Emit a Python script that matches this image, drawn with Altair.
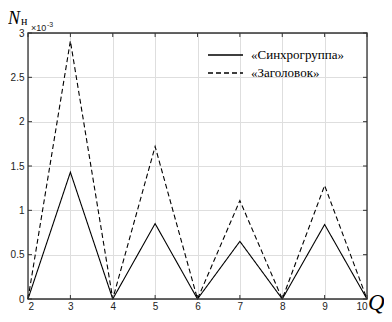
import altair as alt
import pandas as pd

q = [2, 3, 4, 5, 6, 7, 8, 9, 10]
sync = [0, 1.43, 0, 0.85, 0, 0.65, 0, 0.84, 0]
head = [0, 2.91, 0, 1.72, 0, 1.11, 0, 1.28, 0]
series_names = ["«Синхрогруппа»", "«Заголовок»"]
x_ticks = [2, 3, 4, 5, 6, 7, 8, 9, 10]
y_ticks = [0, 0.5, 1, 1.5, 2, 2.5, 3]

rows = []
for name, vals in zip(series_names, [sync, head]):
    for xv, yv in zip(q, vals):
        rows.append({"Q": xv, "N": yv, "s": name})
df = pd.DataFrame(rows)

W, H = 339, 266
xs = alt.Scale(domain=[2, 10], nice=False, zero=False)
ys = alt.Scale(domain=[0, 3], nice=False)
dash_scale = alt.Scale(domain=series_names, range=[[1, 0], [5, 3]])

font = "Liberation Sans"
base_axis = dict(grid=True, gridColor="#dedede", gridWidth=1, ticks=False,
                 domain=False, labelFont=font, labelFontSize=10,
                 labelColor="#222", title=None)

lines = alt.Chart(df).mark_line(strokeWidth=1.1, color="black").encode(
    x=alt.X("Q:Q", scale=xs, axis=alt.Axis(values=x_ticks, labelPadding=2, **base_axis)),
    y=alt.Y("N:Q", scale=ys, axis=alt.Axis(values=y_ticks, format="~g", labelPadding=4, **base_axis)),
    strokeDash=alt.StrokeDash("s:N", scale=dash_scale, legend=None),
    detail="s:N",
)

one = pd.DataFrame({"a": [0]})
frame = alt.Chart(one).mark_rect(fill="transparent", stroke="#333", strokeWidth=1.3).encode(
    x=alt.value(0), x2=alt.value(W), y=alt.value(0), y2=alt.value(H))

xt = pd.DataFrame({"Q": x_ticks})
yt = pd.DataFrame({"N": y_ticks})
tick_color = "#333"
xt_bot = alt.Chart(xt).mark_rule(color=tick_color).encode(
    x=alt.X("Q:Q", scale=xs), y=alt.value(H), y2=alt.value(H - 4))
xt_top = alt.Chart(xt).mark_rule(color=tick_color).encode(
    x=alt.X("Q:Q", scale=xs), y=alt.value(0), y2=alt.value(4))
yt_l = alt.Chart(yt).mark_rule(color=tick_color).encode(
    y=alt.Y("N:Q", scale=ys), x=alt.value(0), x2=alt.value(4))
yt_r = alt.Chart(yt).mark_rule(color=tick_color).encode(
    y=alt.Y("N:Q", scale=ys), x=alt.value(W), x2=alt.value(W - 4))

# legend (manual, MATLAB-like, no box)
leg_layers = []
for i, name in enumerate(series_names):
    yy = 22 + 18 * i
    d = pd.DataFrame({"s": [name]})
    leg_layers.append(alt.Chart(d).mark_rule(color="black", strokeWidth=1.4).encode(
        x=alt.value(180), x2=alt.value(215), y=alt.value(yy),
        strokeDash=alt.StrokeDash("s:N", scale=dash_scale, legend=None)))
    leg_layers.append(alt.Chart(d).mark_text(font="Liberation Serif", fontSize=13, align="left",
                                             baseline="middle", color="black").encode(
        text="s:N", x=alt.value(223), y=alt.value(yy)))

n_label = alt.Chart(one).mark_text(text="N", font="Liberation Serif", fontStyle="italic",
                                   fontSize=18, align="left", baseline="alphabetic",
                                   color="black").encode(x=alt.value(-20), y=alt.value(-9))
n_sub = alt.Chart(one).mark_text(text="н", font="Liberation Serif", fontSize=12, align="left",
                                 baseline="alphabetic", color="black").encode(
    x=alt.value(-7), y=alt.value(-8))
mult = alt.Chart(one).mark_text(text="×10", font=font, fontSize=9, align="left",
                                baseline="alphabetic", color="#222").encode(
    x=alt.value(3), y=alt.value(-2))
exp = alt.Chart(one).mark_text(text="-3", font=font, fontSize=7, align="left",
                               baseline="alphabetic", color="#222").encode(
    x=alt.value(19), y=alt.value(-6))
q_label = alt.Chart(one).mark_text(text="Q", font="Liberation Serif", fontStyle="italic",
                                   fontSize=23, align="left", baseline="alphabetic",
                                   color="black").encode(x=alt.value(W + 1), y=alt.value(H + 11))

chart = alt.layer(lines, *leg_layers, xt_bot, xt_top, yt_l, yt_r, frame,
                  n_label, n_sub, mult, exp, q_label).properties(
    width=W, height=H,
    autosize=alt.AutoSizeParams(type="none"),
    padding={"left": 20, "top": 25, "right": 17, "bottom": 15},
).configure_view(stroke=None).configure(background="white")

chart.save("out.html", embed_options={"renderer": "svg", "actions": False})
